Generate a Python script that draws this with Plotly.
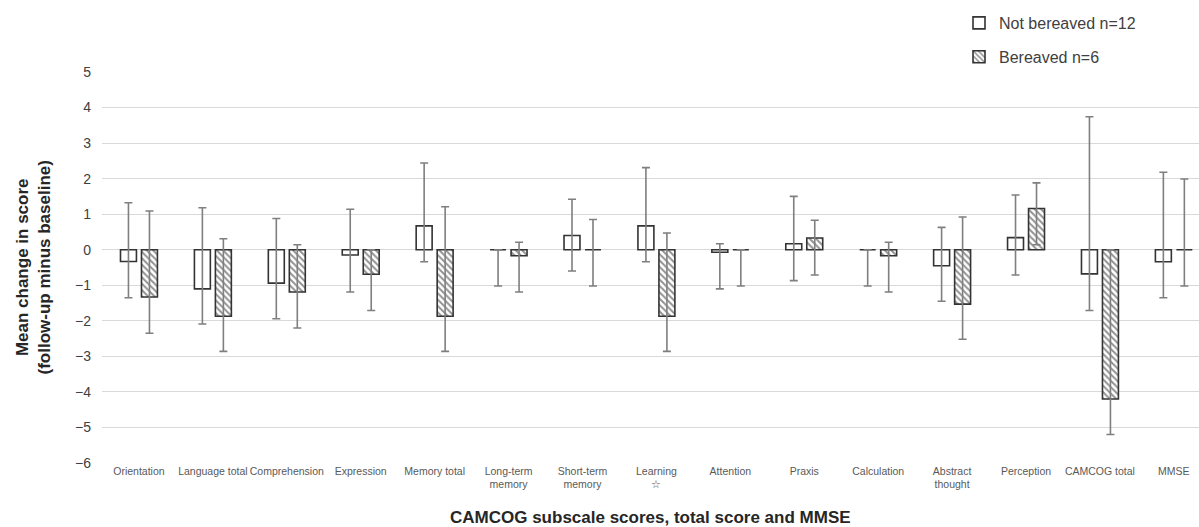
import plotly.graph_objects as go

categories = ["Orientation", "Language total", "Comprehension", "Expression", "Memory total",
              "Long-term<br>memory", "Short-term<br>memory", "Learning<br>☆", "Attention",
              "Praxis", "Calculation", "Abstract<br>thought", "Perception", "CAMCOG total", "MMSE"]

# Not bereaved n=12
nb_mean = [-0.33, -1.10, -0.94, -0.15, 0.67, 0.0, 0.40, 0.67, -0.07, 0.17, 0.0, -0.45, 0.34, -0.68, -0.34]
nb_upper = [1.32, 1.18, 0.88, 1.14, 2.44, 0.0, 1.42, 2.31, 0.17, 1.50, 0.0, 0.63, 1.54, 3.74, 2.18]
nb_lower = [-1.35, -2.09, -1.94, -1.19, -0.34, -1.02, -0.60, -0.34, -1.10, -0.87, -1.02, -1.45, -0.71, -1.71, -1.35]

# Bereaved n=6
b_mean = [-1.33, -1.87, -1.19, -0.69, -1.87, -0.17, 0.0, -1.87, 0.0, 0.33, -0.17, -1.53, 1.16, -4.20, 0.0]
b_upper = [1.09, 0.31, 0.14, 0.0, 1.21, 0.21, 0.85, 0.47, 0.0, 0.83, 0.21, 0.92, 1.88, 0.0, 1.99]
b_lower = [-2.35, -2.86, -2.20, -1.71, -2.86, -1.19, -1.02, -2.86, -1.02, -0.71, -1.19, -2.52, 0.14, -5.20, -1.02]

y_ticks = [5, 4, 3, 2, 1, 0, -1, -2, -3, -4, -5, -6]
y_tick_text = ["5", "4", "3", "2", "1", "0", "−1", "−2", "−3", "−4", "−5", "−6"]

FONT = "Liberation Sans, Arial, sans-serif"
W, H = 1199, 527
L, R, T, B = 102, 0, 72, 64

def err(mean, hi, lo):
    plus = [max(h - m, 0) for h, m in zip(hi, mean)]
    minus = [max(m - l, 0) for m, l in zip(mean, lo)]
    return dict(type="data", symmetric=False, array=plus, arrayminus=minus,
                color="#7f7f7f", thickness=1.6, width=4)

x_idx = list(range(len(categories)))

fig = go.Figure()
fig.add_trace(go.Bar(
    x=x_idx, y=nb_mean, name="Not bereaved n=12", legendgroup="a",
    marker=dict(color="white", line=dict(color="#333333", width=1.6)),
    error_y=err(nb_mean, nb_upper, nb_lower),
))
fig.add_trace(go.Bar(
    x=x_idx, y=b_mean, name="Bereaved n=6", legendgroup="b",
    marker=dict(color="white", line=dict(color="#333333", width=1.6),
                pattern=dict(shape="\\", fgcolor="#262626", bgcolor="white", size=4.5, solidity=0.45)),
    error_y=err(b_mean, b_upper, b_lower),
))

fig.update_layout(
    width=W, height=H,
    margin=dict(l=L, r=R, t=T, b=B, autoexpand=False),
    paper_bgcolor="white", plot_bgcolor="white",
    font=dict(family=FONT, color="#404040"),
    barmode="group", bargap=0.432, bargroupgap=0.24,
    showlegend=True,
    legend=dict(xref="container", yref="container", x=959 / W, y=1 - 6 / H,
                xanchor="left", yanchor="top", tracegroupgap=10,
                font=dict(size=16, color="#404040", family=FONT),
                bgcolor="rgba(0,0,0,0)"),
    xaxis=dict(range=[-0.5, 14.34], tickmode="array", tickvals=x_idx, ticktext=categories,
               showgrid=False, zeroline=False, showline=False, ticks="",
               tickfont=dict(size=10.5, color="#595959", family=FONT), tickangle=0),
    yaxis=dict(range=[-6, 5], tickmode="array", tickvals=y_ticks, ticktext=y_tick_text,
               showgrid=True, gridcolor="#d9d9d9", gridwidth=1.2,
               zeroline=True, zerolinecolor="#d9d9d9", zerolinewidth=1.2,
               showline=False, ticks="", ticklabelstandoff=10,
               tickfont=dict(size=14, color="#404040", family=FONT)),
    annotations=[
        dict(text="<b>CAMCOG subscale scores, total score and MMSE</b>", xref="paper", yref="paper",
             x=0.5, y=(463.3 - 518) / 391.6, xanchor="center", yanchor="middle",
             showarrow=False, font=dict(size=17, color="#262626", family=FONT)),
        dict(text="<b>Mean change in score<br>(follow-up minus baseline)</b>", xref="paper", yref="paper",
             x=(33 - L) / (W - L - R), y=0.5, xanchor="center", yanchor="middle", textangle=-90,
             showarrow=False, font=dict(size=17, color="#262626", family=FONT)),
    ],
)

fig.write_html("out.html", config={"displayModeBar": False},
               post_script="document.body.style.margin='0';document.body.style.overflow='hidden';")
